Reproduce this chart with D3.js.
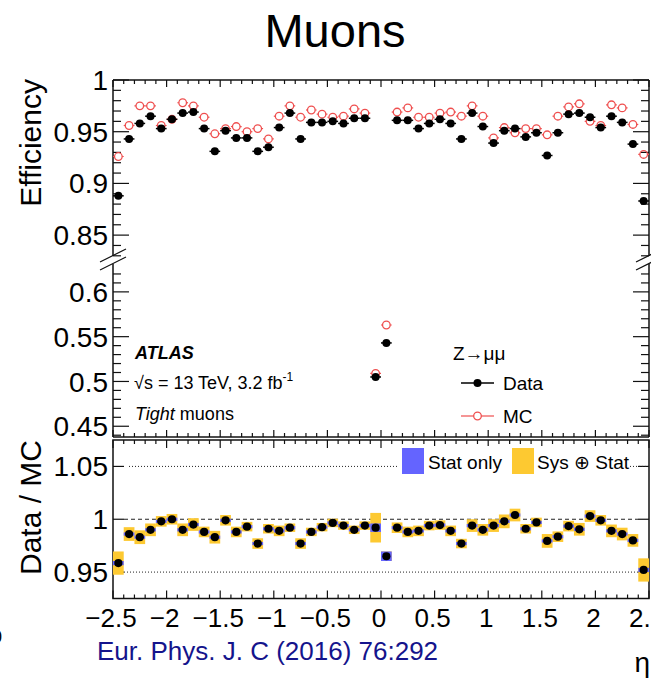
<!DOCTYPE html>
<html>
<head>
<meta charset="utf-8">
<script src="https://cdn.jsdelivr.net/npm/d3@7"></script>
<style>
  html, body { margin: 0; padding: 0; background: #fff; }
  svg { display: block; font-family: "Liberation Sans", Arial, Helvetica, sans-serif; }
</style>
</head>
<body>
<svg id="chart" width="651" height="681"></svg>
<script>
// eta bin centres (bin width 0.1)
const etaBins = [-2.45, -2.35, -2.25, -2.15, -2.05, -1.95, -1.85, -1.75, -1.65, -1.55,
                 -1.45, -1.35, -1.25, -1.15, -1.05, -0.95, -0.85, -0.75, -0.65, -0.55,
                 -0.45, -0.35, -0.25, -0.15, -0.05, 0.05, 0.15, 0.25, 0.35, 0.45,
                 0.55, 0.65, 0.75, 0.85, 0.95, 1.05, 1.15, 1.25, 1.35, 1.45,
                 1.55, 1.65, 1.75, 1.85, 1.95, 2.05, 2.15, 2.25, 2.35, 2.45];

// reconstruction efficiency, data
const effData = [0.888, 0.943, 0.958, 0.965, 0.953, 0.962, 0.968, 0.969, 0.953, 0.931,
                 0.951, 0.944, 0.944, 0.931, 0.935, 0.954, 0.968, 0.943, 0.959, 0.959,
                 0.960, 0.958, 0.963, 0.963, 0.505, 0.543, 0.961, 0.961, 0.953, 0.958,
                 0.962, 0.958, 0.943, 0.968, 0.955, 0.939, 0.951, 0.953, 0.945, 0.949,
                 0.927, 0.949, 0.967, 0.968, 0.964, 0.954, 0.965, 0.959, 0.938, 0.883];

// reconstruction efficiency, simulation
const effMC = [0.926, 0.956, 0.975, 0.975, 0.956, 0.962, 0.978, 0.975, 0.964, 0.948,
               0.953, 0.955, 0.950, 0.953, 0.943, 0.965, 0.975, 0.964, 0.971, 0.967,
               0.964, 0.965, 0.972, 0.968, 0.509, 0.563, 0.969, 0.973, 0.964, 0.964,
               0.968, 0.969, 0.965, 0.975, 0.965, 0.944, 0.954, 0.949, 0.953, 0.953,
               0.947, 0.965, 0.974, 0.977, 0.960, 0.956, 0.976, 0.973, 0.957, 0.928];

// scale factor Data / MC
const ratio = [0.9585, 0.986, 0.983, 0.990, 0.998, 1.000, 0.990, 0.995, 0.988, 0.983,
               0.999, 0.988, 0.993, 0.977, 0.991, 0.989, 0.992, 0.977, 0.988, 0.9925,
               0.9965, 0.994, 0.990, 0.994, 0.992, 0.965, 0.992, 0.988, 0.989, 0.994,
               0.9945, 0.989, 0.977, 0.994, 0.990, 0.994, 0.998, 1.004, 0.991, 0.997,
               0.9795, 0.9835, 0.9935, 0.9905, 1.003, 0.999, 0.989, 0.986, 0.980, 0.952];

// statistical uncertainty on the ratio (half height)
const ratioStat = [0.002, 0.0015, 0.0015, 0.0015, 0.0015, 0.0015, 0.0015, 0.0015, 0.0015, 0.0015,
                   0.0015, 0.0015, 0.0015, 0.0015, 0.0015, 0.0015, 0.0015, 0.0015, 0.0015, 0.0015,
                   0.0015, 0.0015, 0.0015, 0.0015, 0.004, 0.0045, 0.0015, 0.0015, 0.0015, 0.0015,
                   0.0015, 0.0015, 0.0015, 0.0015, 0.0015, 0.0015, 0.0015, 0.0015, 0.0015, 0.0015,
                   0.0015, 0.0015, 0.0015, 0.0015, 0.0015, 0.0015, 0.0015, 0.0015, 0.0015, 0.002];

// total (sys + stat) uncertainty on the ratio (half height)
const ratioTot = [0.011, 0.0065, 0.0065, 0.006, 0.005, 0.005, 0.006, 0.006, 0.005, 0.006,
                  0.005, 0.005, 0.0045, 0.005, 0.0045, 0.005, 0.004, 0.005, 0.004, 0.004,
                  0.004, 0.004, 0.004, 0.004, 0.014, 0.0045, 0.005, 0.005, 0.005, 0.0045,
                  0.0045, 0.005, 0.0045, 0.006, 0.0055, 0.006, 0.0065, 0.006, 0.0045, 0.0045,
                  0.0065, 0.005, 0.005, 0.006, 0.0055, 0.005, 0.006, 0.006, 0.006, 0.011];

// axis tick labels
const xTicks = [-2.5, -2, -1.5, -1, -0.5, 0, 0.5, 1, 1.5, 2, 2.5];
const yTicksUpper = [0.85, 0.9, 0.95, 1];
const yTicksLower = [0.45, 0.5, 0.55, 0.6];
const yTicksRatio = [0.95, 1, 1.05];

const svg = d3.select("#chart");
const FONT = '"Liberation Sans", Arial, Helvetica, sans-serif';
const RED = "#ef4f4f";
const YELLOW = "#fdc931";
const BLUE = "#6464ff";

// ----- geometry -----
const X0 = 113, X1 = 649;
const x = d3.scaleLinear().domain([-2.5, 2.5]).range([X0, X1]);
// broken efficiency axis: upper and lower segments
const yUp = d3.scaleLinear().domain([0.83, 1.0]).range([255.8, 80]);
const yLo = d3.scaleLinear().domain([0.438, 0.63]).range([437, 265]);
const yEff = v => (v >= 0.7 ? yUp(v) : yLo(v));
const yR = d3.scaleLinear().domain([0.925, 1.075]).range([598.5, 440]);

const fmt = v => {
  let s = String(v);
  return s.replace("-", "\u2212");
};
const halfBin = 0.05;

// ----- title -----
svg.append("text").attr("x", 335).attr("y", 47).attr("text-anchor", "middle")
  .attr("font-size", 47).text("Muons");

// ----- helper for tick marks -----
function yTickMarks(g, scale, values, xPos, len, dir) {
  g.selectAll(null).data(values).enter().append("line")
    .attr("x1", xPos).attr("x2", xPos + dir * len)
    .attr("y1", d => scale(d)).attr("y2", d => scale(d))
    .attr("stroke", "#111").attr("stroke-width", 1.2);
}
function xTickMarks(g, values, yPos, len, dir) {
  g.selectAll(null).data(values).enter().append("line")
    .attr("x1", d => x(d)).attr("x2", d => x(d))
    .attr("y1", yPos).attr("y2", yPos + dir * len)
    .attr("stroke", "#111").attr("stroke-width", 1.2);
}

const axesG = svg.append("g");
const minorX = d3.range(-25, 26).map(i => i / 10).filter(v => !xTicks.includes(v));

// ----- efficiency panel frame -----
const upMinor = d3.range(83, 101).map(i => i / 100);
const loMinor = d3.range(44, 63).map(i => i / 100);
axesG.append("line").attr("x1", X0).attr("x2", X1).attr("y1", 80).attr("y2", 80).attr("stroke", "#111").attr("stroke-width", 1.5);
axesG.append("line").attr("x1", X0).attr("x2", X1).attr("y1", 437).attr("y2", 437).attr("stroke", "#111").attr("stroke-width", 1.5);
[X0, X1].forEach(xx => {
  axesG.append("line").attr("x1", xx).attr("x2", xx).attr("y1", 80).attr("y2", 256).attr("stroke", "#111").attr("stroke-width", 1.5);
  axesG.append("line").attr("x1", xx).attr("x2", xx).attr("y1", 264).attr("y2", 437).attr("stroke", "#111").attr("stroke-width", 1.5);
  // break marks
  [0, 8].forEach(off => {
    axesG.append("line").attr("x1", xx - 13).attr("y1", 262 + off).attr("x2", xx + 13).attr("y2", 249 + off)
      .attr("stroke", "#111").attr("stroke-width", 1.2);
  });
});
yTickMarks(axesG, yUp, yTicksUpper, X0, 16, 1);
yTickMarks(axesG, yUp, upMinor.filter(v => !yTicksUpper.some(t => Math.abs(t - v) < 1e-6)), X0, 8, 1);
yTickMarks(axesG, yLo, yTicksLower, X0, 16, 1);
yTickMarks(axesG, yLo, loMinor.filter(v => !yTicksLower.some(t => Math.abs(t - v) < 1e-6)), X0, 8, 1);
yTickMarks(axesG, yUp, yTicksUpper, X1, 16, -1);
yTickMarks(axesG, yUp, upMinor.filter(v => !yTicksUpper.some(t => Math.abs(t - v) < 1e-6)), X1, 8, -1);
yTickMarks(axesG, yLo, yTicksLower, X1, 16, -1);
yTickMarks(axesG, yLo, loMinor.filter(v => !yTicksLower.some(t => Math.abs(t - v) < 1e-6)), X1, 8, -1);
xTickMarks(axesG, xTicks, 80, 7, 1);
xTickMarks(axesG, minorX, 80, 4, 1);
xTickMarks(axesG, xTicks, 437, 7, -1);
xTickMarks(axesG, minorX, 437, 4, -1);

// efficiency tick labels
const labG = svg.append("g").attr("font-size", 28).attr("text-anchor", "end");
yTicksUpper.forEach(v => labG.append("text").attr("x", 108).attr("y", yUp(v)).attr("dy", "0.36em").text(v));
yTicksLower.forEach(v => labG.append("text").attr("x", 108).attr("y", yLo(v)).attr("dy", "0.36em").text(v));

svg.append("text").attr("transform", "translate(41,79) rotate(-90)").attr("text-anchor", "end")
  .attr("font-size", 30).text("Efficiency");

// ----- ratio panel frame -----
axesG.append("rect").attr("x", X0).attr("y", 440).attr("width", X1 - X0).attr("height", 598.5 - 440)
  .attr("fill", "none").attr("stroke", "#111").attr("stroke-width", 1.5);
yTickMarks(axesG, yR, yTicksRatio, X0, 11, 1);
yTickMarks(axesG, yR, yTicksRatio, X1, 11, -1);
xTickMarks(axesG, xTicks, 440, 8, 1);
xTickMarks(axesG, minorX, 440, 4, 1);
xTickMarks(axesG, xTicks, 598.5, 8, -1);
xTickMarks(axesG, minorX, 598.5, 4, -1);

// reference lines
const refG = svg.append("g");
refG.append("line").attr("x1", X0 + 16).attr("x2", X1).attr("y1", yR(1.05)).attr("y2", yR(1.05))
  .attr("stroke", "#222").attr("stroke-width", 1).attr("stroke-dasharray", "1,2");
refG.append("line").attr("x1", X0 + 11).attr("x2", X1 - 11).attr("y1", yR(0.95)).attr("y2", yR(0.95))
  .attr("stroke", "#222").attr("stroke-width", 1).attr("stroke-dasharray", "1,2");
refG.append("line").attr("x1", X0 + 11).attr("x2", X1 - 11).attr("y1", yR(1)).attr("y2", yR(1))
  .attr("stroke", "#222").attr("stroke-width", 1).attr("stroke-dasharray", "4,3");

yTicksRatio.forEach(v => labG.append("text").attr("x", 108).attr("y", yR(v)).attr("dy", "0.36em").text(v));
svg.append("text").attr("transform", "translate(41,440) rotate(-90)").attr("text-anchor", "end")
  .attr("font-size", 30).text("Data / MC");

// x tick labels
const xLab = svg.append("g").attr("font-size", 26).attr("text-anchor", "middle");
xTicks.forEach(v => xLab.append("text").attr("x", x(v) - 2).attr("y", 627).text(fmt(v)));

// ----- ratio points: uncertainty boxes -----
const ratioG = svg.append("g");
etaBins.forEach((e, i) => {
  ratioG.append("rect")
    .attr("x", x(e - halfBin)).attr("width", x(e + halfBin) - x(e - halfBin))
    .attr("y", yR(ratio[i] + ratioTot[i])).attr("height", yR(ratio[i] - ratioTot[i]) - yR(ratio[i] + ratioTot[i]))
    .attr("fill", YELLOW);
});
etaBins.forEach((e, i) => {
  ratioG.append("rect")
    .attr("x", x(e - halfBin)).attr("width", x(e + halfBin) - x(e - halfBin))
    .attr("y", yR(ratio[i] + ratioStat[i])).attr("height", yR(ratio[i] - ratioStat[i]) - yR(ratio[i] + ratioStat[i]))
    .attr("fill", BLUE);
});
ratioG.selectAll("circle.r").data(etaBins).enter().append("circle")
  .attr("cx", d => x(d)).attr("cy", (d, i) => yR(ratio[i])).attr("r", 4.1).attr("fill", "#000");

// ratio legend
const rl = svg.append("g");
rl.append("rect").attr("x", 398).attr("y", 446).attr("width", 230).attr("height", 30).attr("fill", "#fff");
rl.append("rect").attr("x", 402).attr("y", 448).attr("width", 22).attr("height", 26).attr("fill", BLUE);
rl.append("text").attr("x", 428).attr("y", 469).attr("font-size", 19).text("Stat only");
rl.append("rect").attr("x", 512).attr("y", 448).attr("width", 22).attr("height", 26).attr("fill", YELLOW);
rl.append("text").attr("x", 537).attr("y", 469).attr("font-size", 19).text("Sys \u2295 Stat");

// ----- efficiency points -----
const effG = svg.append("g");
// MC: open red circles with horizontal bin bars
etaBins.forEach((e, i) => {
  const cy = yEff(effMC[i]);
  effG.append("line").attr("x1", x(e - halfBin)).attr("x2", x(e) - 3.8).attr("y1", cy).attr("y2", cy)
    .attr("stroke", RED).attr("stroke-width", 1.2);
  effG.append("line").attr("x1", x(e) + 3.8).attr("x2", x(e + halfBin)).attr("y1", cy).attr("y2", cy)
    .attr("stroke", RED).attr("stroke-width", 1.2);
  effG.append("circle").attr("cx", x(e)).attr("cy", cy).attr("r", 3.8)
    .attr("fill", "none").attr("stroke", RED).attr("stroke-width", 1.3);
});
// Data: filled black circles with horizontal bin bars
etaBins.forEach((e, i) => {
  const cy = yEff(effData[i]);
  effG.append("line").attr("x1", x(e - halfBin)).attr("x2", x(e + halfBin)).attr("y1", cy).attr("y2", cy)
    .attr("stroke", "#000").attr("stroke-width", 1.5);
  effG.append("circle").attr("cx", x(e)).attr("cy", cy).attr("r", 4).attr("fill", "#000");
});

// ----- labels inside efficiency panel -----
svg.append("text").attr("x", 135).attr("y", 359).attr("font-size", 18)
  .attr("font-weight", "bold").attr("font-style", "italic").text("ATLAS");
const lumi = svg.append("text").attr("x", 134).attr("y", 389).attr("font-size", 18);
lumi.append("tspan").text("\u221As = 13 TeV, 3.2 fb");
lumi.append("tspan").attr("font-size", 12).attr("dy", -8).text("-1");
const tight = svg.append("text").attr("x", 135).attr("y", 420).attr("font-size", 18);
tight.append("tspan").attr("font-style", "italic").text("Tight");
tight.append("tspan").text(" muons");

svg.append("text").attr("x", 453).attr("y", 360).attr("font-size", 19).text("Z\u2192\u03bc\u03bc");
// legend: data
svg.append("line").attr("x1", 461).attr("x2", 494).attr("y1", 383).attr("y2", 383).attr("stroke", "#000").attr("stroke-width", 1.5);
svg.append("circle").attr("cx", 477.5).attr("cy", 383).attr("r", 4).attr("fill", "#000");
svg.append("text").attr("x", 503).attr("y", 390).attr("font-size", 19).text("Data");
// legend: MC
svg.append("line").attr("x1", 461).attr("x2", 473.7).attr("y1", 416).attr("y2", 416).attr("stroke", RED).attr("stroke-width", 1.2);
svg.append("line").attr("x1", 481.3).attr("x2", 494).attr("y1", 416).attr("y2", 416).attr("stroke", RED).attr("stroke-width", 1.2);
svg.append("circle").attr("cx", 477.5).attr("cy", 416).attr("r", 3.8).attr("fill", "none").attr("stroke", RED).attr("stroke-width", 1.3);
svg.append("text").attr("x", 503).attr("y", 423).attr("font-size", 19).text("MC");

// ----- bottom texts -----
svg.append("text").attr("x", 97).attr("y", 660).attr("font-size", 26).attr("fill", "#14148c")
  .text("Eur. Phys. J. C (2016) 76:292");
svg.append("text").attr("x", 650).attr("y", 672).attr("text-anchor", "end").attr("font-size", 28).text("\u03b7");
svg.append("text").attr("x", -8).attr("y", 643).attr("font-size", 18).text("0");
</script>
</body>
</html>
